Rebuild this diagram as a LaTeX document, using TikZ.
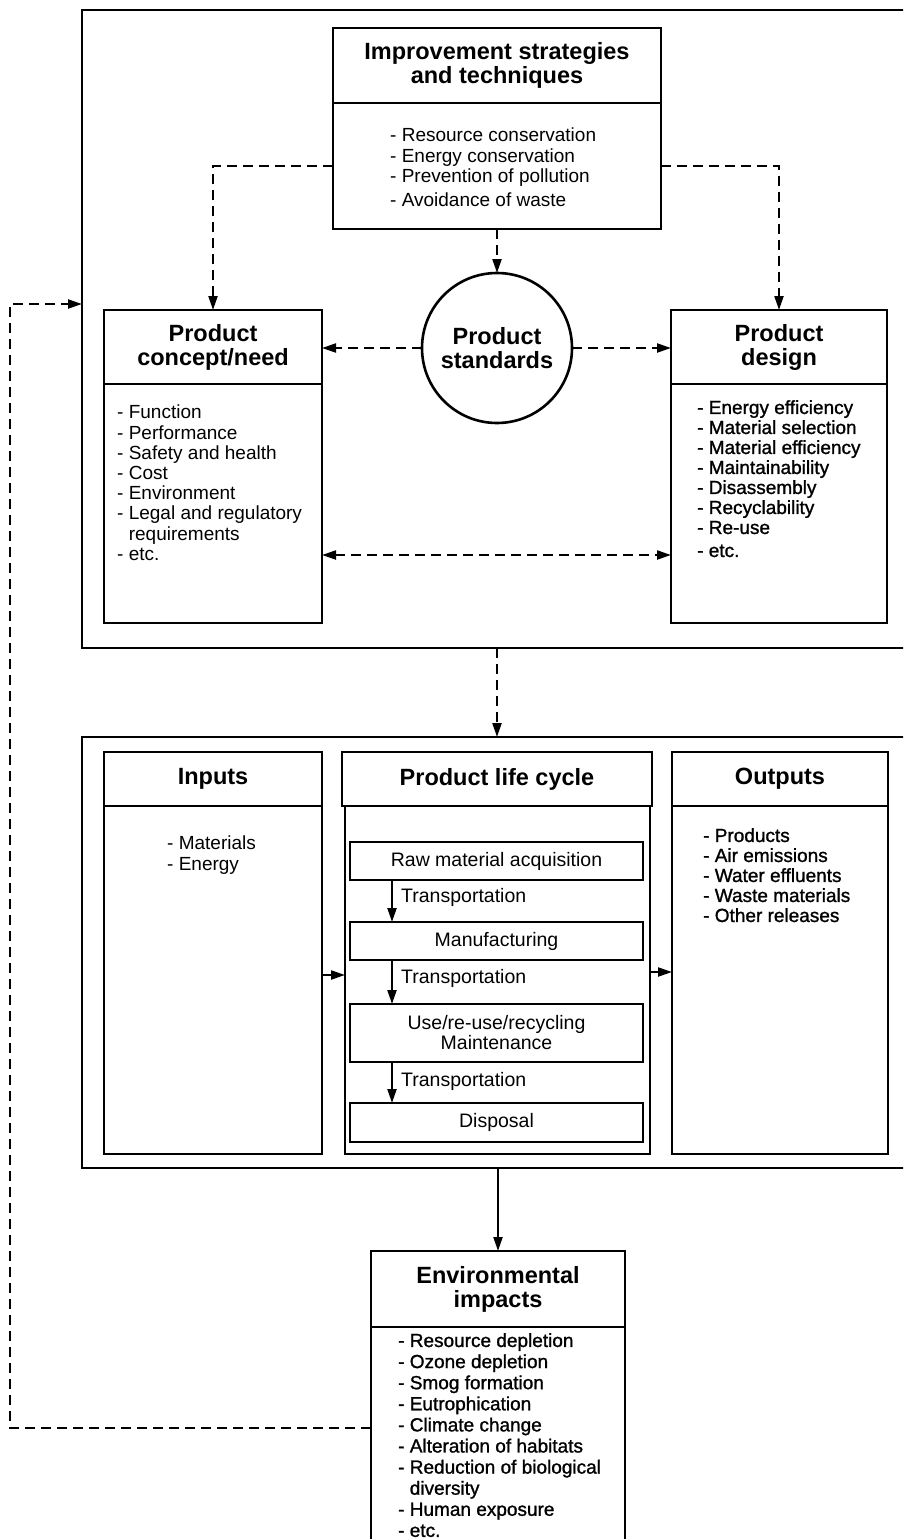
\documentclass[tikz,border=0pt]{standalone}
\usepackage{fontspec}
\setmainfont{Liberation Sans}
\newfontfamily\medfont{Liberation Sans}[FakeBold=1.2]
\usetikzlibrary{arrows.meta,fit,calc}
\begin{document}
\begin{tikzpicture}[x=1pt,y=-1pt,
  frame/.style={draw, line width=2.8pt, inner sep=0pt, outer sep=0pt},
  hd/.style={font=\fontsize{23.5}{24}\selectfont\bfseries, align=center, inner sep=0pt},
  lst/.style={font=\fontsize{19}{20.2}\selectfont, align=left, anchor=north west, inner sep=0pt},
  lstm/.style={lst, font=\medfont\fontsize{19}{20.2}\selectfont},
  stage/.style={frame, line width=2.6pt},
  stagetext/.style={font=\fontsize{19.5}{20}\selectfont, align=center, inner sep=0pt},
  lab/.style={font=\fontsize{19.5}{20}\selectfont, anchor=west, inner sep=0pt},
  dasharrow/.style={line width=2.2pt, dash pattern=on 10pt off 6pt, -{Triangle[length=14pt,width=9pt]}},
  solidarrow/.style={line width=2.2pt, -{Triangle[length=14pt,width=9pt]}}
]
\useasboundingbox (0,0) rectangle (903,1539);
\clip (0,0) rectangle (903,1539);

% ---------- top frame ----------
\node[frame, fit={(82,10) (935,648)}] (outerA) {};
\node[frame, fit={(333,28) (661,103)}] (topH) {};
\node[hd] (topHt) at (topH.center) {Improvement strategies\\and techniques};
\node[frame, fit={(333,103) (661,229)}] (topB) {};
\node[lst] (topL) at (390,128) {- Resource conservation\\- Energy conservation\\- Prevention of pollution\\[4pt]- Avoidance of waste};

\node[frame, fit={(104,310) (322,384)}] (conH) {};
\node[hd] (conHt) at (conH.center) {Product\\concept/need};
\node[frame, fit={(104,384) (322,623)}] (conB) {};
\node[lst] (conL) at (117,405) {- Function\\- Performance\\- Safety and health\\- Cost\\- Environment\\- Legal and regulatory\\\hphantom{- }requirements\\- etc.};

\node[frame, fit={(671,310) (887,384)}] (desH) {};
\node[hd] (desHt) at (desH.center) {Product\\design};
\node[frame, fit={(671,384) (887,623)}] (desB) {};
\node[lstm, font=\medfont\fontsize{19}{20}\selectfont] (desL) at (697,400) {- Energy efficiency\\- Material selection\\- Material efficiency\\- Maintainability\\- Disassembly\\- Recyclability\\- Re-use\\[3pt]- etc.};

\node[circle, draw, line width=2.6pt, minimum size=150pt, inner sep=0pt, outer sep=0pt] (circ) at (497,348) {};
\node[hd] (circt) at (circ.center) {Product\\standards};

\draw[dasharrow] (topB.west) -| (conH.north);
\draw[dasharrow] (topB.east) -| (desH.north);
\draw[dasharrow] (topB.south) -- (circ.north);
\draw[dasharrow] (circ.west) -- (circ.west -| conH.east);
\draw[dasharrow] (circ.east) -- (circ.east -| desH.west);
\coordinate (dbl) at (0,555);
\draw[dasharrow, {Triangle[length=14pt,width=9pt]}-{Triangle[length=14pt,width=9pt]}] (dbl -| conB.east) -- (dbl -| desB.west);

% ---------- middle frame ----------
\node[frame, fit={(82,737) (935,1168)}] (outerB) {};
\draw[dasharrow] (topB.south |- outerA.south) -- (topB.south |- outerB.north);

\node[frame, fit={(104,752) (322,806)}] (inH) {};
\node[hd] (inHt) at (inH.center) {Inputs};
\node[frame, fit={(104,806) (322,1154)}] (inB) {};
\node[lst] (inL) at (167,836) {- Materials\\- Energy};

\node[frame, fit={(342,752) (652,806)}] (plcH) {};
\node[hd] (plcHt) at (plcH.center) {Product life cycle};
\node[frame, fit={(345,806) (650,1154)}] (plcB) {};

\node[frame, fit={(672,752) (888,806)}] (outH) {};
\node[hd] (outHt) at (outH.center) {Outputs};
\node[frame, fit={(672,806) (888,1154)}] (outB) {};
\node[lstm, font=\medfont\fontsize{19}{20}\selectfont] (outL) at (703,828) {- Products\\- Air emissions\\- Water effluents\\- Waste materials\\- Other releases};

\node[stage, fit={(350,842) (643,880)}] (raw) {};
\node[stagetext] (rawt) at (raw.center) {Raw material acquisition};
\node[stage, fit={(350,922) (643,960)}] (man) {};
\node[stagetext] (mant) at (man.center) {Manufacturing};
\node[stage, fit={(350,1004) (643,1062)}] (use) {};
\node[stagetext] (uset) at (use.center) {Use/re-use/recycling\\Maintenance};
\node[stage, fit={(350,1103) (643,1142)}] (dis) {};
\node[stagetext] (dist) at (dis.center) {Disposal};

\coordinate (ax) at (392,0);
\draw[solidarrow] (raw.south -| ax) -- (man.north -| ax);
\draw[solidarrow] (man.south -| ax) -- (use.north -| ax);
\draw[solidarrow] (use.south -| ax) -- (dis.north -| ax);
\node[lab] (t1) at (401,897) {Transportation};
\node[lab] (t2) at (401,978) {Transportation};
\node[lab] (t3) at (401,1081) {Transportation};

\coordinate (iy) at (0,975);
\draw[solidarrow] (iy -| inB.east) -- (iy -| plcB.west);
\coordinate (oy) at (0,972);
\draw[solidarrow] (oy -| plcB.east) -- (oy -| outB.west);

% ---------- environmental impacts ----------
\node[frame, fit={(371,1251) (625,1327)}] (envH) {};
\node[hd] (envHt) at (envH.center) {Environmental\\impacts};
\node[frame, fit={(371,1327) (625,1570)}] (envB) {};
\node[lstm, font=\medfont\fontsize{19}{21.1}\selectfont] (envL) at (398,1333) {- Resource depletion\\- Ozone depletion\\- Smog formation\\- Eutrophication\\- Climate change\\- Alteration of habitats\\- Reduction of biological\\\hphantom{- }diversity\\- Human exposure\\- etc.};

\draw[solidarrow] (envH.north |- outerB.south) -- (envH.north);

\coordinate (fb1) at (10,1428);
\coordinate (fb2) at (10,304);
\draw[dasharrow] (fb1 -| envB.west) -- (fb1) -- (fb2) -- (fb2 -| outerA.west);
\end{tikzpicture}
\end{document}
